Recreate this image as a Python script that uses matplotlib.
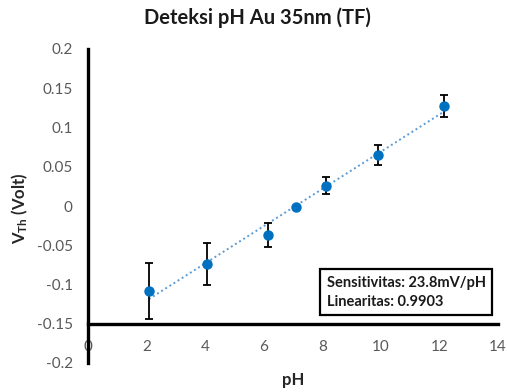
import matplotlib
matplotlib.use('Agg')
import matplotlib.pyplot as plt
import numpy as np

# data
ph = [2.08, 4.05, 6.13, 7.11, 8.11, 9.90, 12.16]
vth = [-0.108, -0.0736, -0.0369, -0.001, 0.026, 0.0645, 0.128]
err = [0.036, 0.027, 0.015, 0.0, 0.011, 0.0127, 0.014]
xticks = [0, 2, 4, 6, 8, 10, 12, 14]
yticks = [-0.2, -0.15, -0.1, -0.05, 0, 0.05, 0.1, 0.15, 0.2]
ytick_labels = ['-0.2', '-0.15', '-0.1', '-0.05', '0', '0.05', '0.1', '0.15', '0.2']
info = "Sensitivitas: 23.8mV/pH\nLinearitas: 0.9903"

plt.rcParams['font.family'] = ['Lato', 'DejaVu Sans']
plt.rcParams['mathtext.fontset'] = 'custom'
plt.rcParams['mathtext.bf'] = 'Lato:bold'
plt.rcParams['mathtext.rm'] = 'Lato'

fig = plt.figure(figsize=(5.07, 3.92), dpi=100)
ax = fig.add_axes([88 / 507, 29 / 392, 410 / 507, 314 / 392])

# trendline (linear fit)
coef = np.polyfit(ph, vth, 1)
xfit = np.array([min(ph), max(ph)])
ax.plot(xfit, np.polyval(coef, xfit), linestyle=(0, (1, 1.5)), color='#5B9BD5', lw=1.4, zorder=2)

ax.errorbar(ph, vth, yerr=err, fmt='o', color='#0070C0', ms=6.5,
            ecolor='black', elinewidth=1.3, capsize=3, capthick=1.3, zorder=3)

ax.set_xlim(0, 14)
ax.set_ylim(-0.2, 0.2)
ax.set_xticks(xticks)
ax.set_yticks(yticks)
ax.set_yticklabels(ytick_labels)

for s in ['top', 'right']:
    ax.spines[s].set_visible(False)
ax.spines['bottom'].set_position(('data', -0.15))
ax.spines['bottom'].set_linewidth(2.4)
ax.spines['left'].set_linewidth(2.4)
ax.tick_params(axis='both', length=0, labelsize=11, labelcolor='#595959')
ax.tick_params(axis='x', pad=12)
ax.tick_params(axis='y', pad=11)

fig.text(257 / 507, 1 - 18 / 392, 'Deteksi pH Au 35nm (TF)', ha='center', va='center',
         fontsize=14.5, fontweight='bold', color='#1a1a1a')
fig.text((88 + 498) / 2 / 507, 1 - 380 / 392, 'pH', ha='center', va='center',
         fontsize=12, fontweight='bold', color='#262626')
fig.text(20 / 507, 1 - 208 / 392, r'$\mathbf{V_{Th}}$ (Volt)', ha='center', va='center',
         rotation=90, fontsize=12, fontweight='bold', color='#262626')

ax.text(0.582, 0.278, info, transform=ax.transAxes, ha='left', va='top',
        fontsize=10.5, fontweight='bold', color='#1a1a1a', linespacing=1.45,
        bbox=dict(boxstyle='square,pad=0.45', fc='white', ec='black', lw=1.6))

fig.savefig('out.png', dpi=100)
